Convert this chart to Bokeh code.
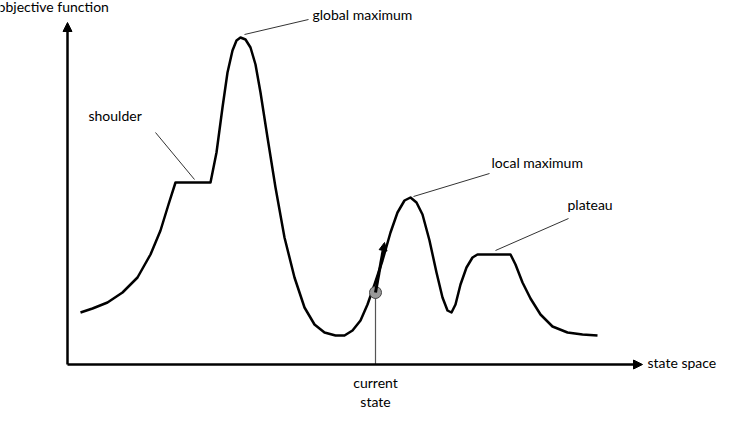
from bokeh.plotting import figure
from bokeh.models import Range1d, Arrow, NormalHead
from bokeh.core.properties import value
from bokeh.embed import file_html
from bokeh.resources import INLINE

curve_x = [88, 100, 115, 130, 145, 158, 168, 176, 183, 218, 224, 230, 235, 240, 244, 248, 253, 258, 263, 268, 275, 283, 292, 302, 312, 322, 332, 343, 352, 360, 368, 375, 382, 390, 398, 405, 412, 418, 424, 430, 437, 444, 450, 455, 459, 463, 468, 474, 480, 485, 518, 523, 530, 538, 548, 560, 575, 590, 605]
curve_y = [320, 316, 310, 300, 285, 262, 238, 212, 190, 190, 160, 115, 80, 58, 48, 45, 47, 55, 72, 100, 145, 195, 245, 285, 315, 332, 340, 343, 343, 338, 328, 312, 292, 268, 240, 220, 208, 205, 210, 222, 248, 280, 305, 318, 320, 312, 292, 275, 265, 262, 262, 272, 290, 306, 322, 334, 340, 342, 343]
labels = ["objective function", "global maximum", "shoulder", "local maximum", "plateau", "state space", "current", "state"]
label_x = [5, 320, 96, 499, 575, 655, 383, 383]
label_y = [14, 22, 123, 170, 212, 370, 390, 409]
label_align = ["left", "left", "left", "left", "left", "left", "center", "center"]
lead_x0 = [252, 163, 421, 503]
lead_y0 = [42, 140, 204, 258]
lead_x1 = [316, 202, 497, 576]
lead_y1 = [27, 187, 181, 226]
state_x, state_y = 383, 300

p = figure(width=730, height=408, output_backend="svg", toolbar_location=None,
           x_range=Range1d(8, 738), y_range=Range1d(416, 8), min_border=0)
p.axis.visible = False
p.grid.visible = False
p.outline_line_color = None

p.add_layout(Arrow(end=NormalHead(size=9, fill_color="black", line_color="black"),
                   x_start=75, y_start=372, x_end=75, y_end=30, line_width=2.5))
p.add_layout(Arrow(end=NormalHead(size=9, fill_color="black", line_color="black"),
                   x_start=75, y_start=372, x_end=650, y_end=372, line_width=2.5))

p.line(curve_x, curve_y, line_width=2.5, line_color="black", line_join="round")
p.segment(lead_x0, lead_y0, lead_x1, lead_y1, line_color="#333333", line_width=1)
p.segment([state_x], [state_y], [state_x], [372], line_color="#555555", line_width=1.2)
p.add_layout(Arrow(end=NormalHead(size=8, fill_color="black", line_color="black"),
                   x_start=state_x, y_start=state_y, x_end=392, y_end=250, line_width=3))
p.scatter([state_x], [state_y], size=12, fill_color="#999999", line_color="#444444")

for t, x, y, a in zip(labels, label_x, label_y, label_align):
    p.text([x], [y], text=[t], text_font=value("Lato"), text_font_size="14px",
           text_align=a, text_baseline="middle", text_color="black")

open("out.html", "w").write(file_html(p, INLINE))
